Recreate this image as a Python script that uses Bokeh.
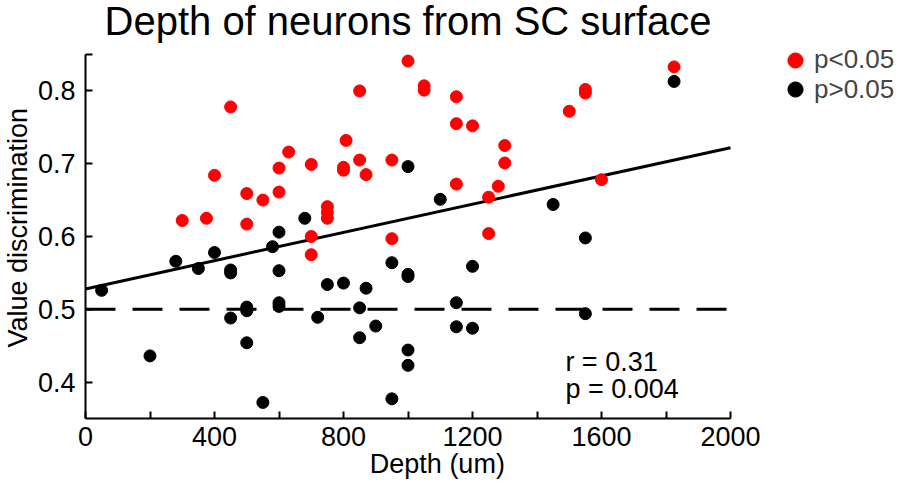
import math
from bokeh.plotting import figure
from bokeh.models import (FixedTicker, Label, Legend, LegendItem, ColumnDataSource)
from bokeh.embed import file_html
from bokeh.resources import INLINE

# ---- data ----
sig_depth = [300, 375, 450, 400, 500, 500, 550, 600, 600, 630, 700, 750, 750, 750,
             700, 700, 808, 800, 800, 850, 850, 870, 950, 950, 1000, 1050, 1050,
             1150, 1150, 1200, 1300, 1300, 1150, 1280, 1250, 1250, 1500, 1550, 1550,
             1600, 1825]
sig_value = [0.622, 0.625, 0.778, 0.684, 0.659, 0.617, 0.650, 0.694, 0.661, 0.716,
             0.699, 0.641, 0.633, 0.625, 0.600, 0.575, 0.732, 0.695, 0.691, 0.800,
             0.705, 0.685, 0.705, 0.597, 0.841, 0.807, 0.801, 0.792, 0.755, 0.752,
             0.725, 0.701, 0.672, 0.669, 0.654, 0.604, 0.772, 0.802, 0.797, 0.678,
             0.833]
ns_depth = [50, 200, 280, 350, 400, 450, 450, 450, 500, 500, 500, 550, 580, 600, 600,
            600, 600, 680, 720, 750, 800, 850, 850, 870, 900, 950, 950, 1000, 1100,
            1000, 1000, 1200, 1150, 1150, 1200, 1000, 1000, 1450, 1550, 1550, 1825]
ns_value = [0.526, 0.436, 0.566, 0.556, 0.578, 0.554, 0.550, 0.488, 0.503, 0.498,
            0.454, 0.372, 0.586, 0.606, 0.553, 0.509, 0.504, 0.625, 0.489, 0.534,
            0.536, 0.502, 0.461, 0.529, 0.477, 0.564, 0.377, 0.696, 0.651, 0.548,
            0.545, 0.559, 0.509, 0.476, 0.474, 0.444, 0.423, 0.644, 0.598, 0.494,
            0.813]

fit_intercept = 0.528
fit_slope = 0.000097
fit_x = [0, 2000]
chance_level = 0.5

x_limits = (0, 2000)
y_limits = (0.35, 0.85)
x_ticks = [0, 200, 400, 600, 800, 1000, 1200, 1400, 1600, 1800, 2000]
x_tick_labels = ["0", "", "400", "", "800", "", "1200", "", "1600", "", "2000"]
y_ticks = [0.4, 0.5, 0.6, 0.7, 0.8, 0.85]
y_tick_labels = ["0.4", "0.5", "0.6", "0.7", "0.8", ""]

title_text = "Depth of neurons from SC surface"
x_label = "Depth (um)"
y_label = "Value discrimination"
stat_r = "r = 0.31"
stat_p = "p = 0.004"
legend_labels = ["p<0.05", "p>0.05"]

FONT = "Liberation Sans"

# ---- layout: the frame covers the whole canvas; axes sit at fixed data positions ----
W, H = 902, 491
AX_L, AX_R, AX_T, AX_B = 85, 730, 54, 418          # axes box in pixels
xpp = (x_limits[1] - x_limits[0]) / (AX_R - AX_L)
ypp = (y_limits[1] - y_limits[0]) / (AX_B - AX_T)
x_range = (x_limits[0] - AX_L * xpp, x_limits[1] + (W - AX_R) * xpp)
y_range = (y_limits[0] - (H - AX_B) * ypp, y_limits[1] + AX_T * ypp)

p = figure(width=W, height=H, x_range=x_range, y_range=y_range,
           output_backend="svg", toolbar_location=None,
           min_border_left=0, min_border_right=0, min_border_top=0,
           min_border_bottom=0)
p.title.visible = False
p.outline_line_color = None
p.xgrid.visible = False
p.ygrid.visible = False
p.background_fill_color = "white"
p.border_fill_color = "white"

for ax in (p.xaxis[0], p.yaxis[0]):
    ax.axis_line_width = 2
    ax.axis_line_color = "black"
    ax.major_tick_line_width = 2
    ax.major_tick_in = 7
    ax.major_tick_out = 0
    ax.minor_tick_line_color = None
    ax.major_label_text_font = FONT
    ax.major_label_text_font_size = "27px"
    ax.major_label_text_color = "black"

p.xaxis[0].fixed_location = y_limits[0]
p.xaxis[0].bounds = x_limits
p.xaxis[0].ticker = FixedTicker(ticks=x_ticks)
p.xaxis[0].major_label_overrides = {t: l for t, l in zip(x_ticks, x_tick_labels)}
p.xaxis[0].major_label_standoff = 8
p.yaxis[0].fixed_location = x_limits[0]
p.yaxis[0].bounds = y_limits
p.yaxis[0].ticker = FixedTicker(ticks=y_ticks)
p.yaxis[0].major_label_overrides = {t: l for t, l in zip(y_ticks, y_tick_labels)}
p.yaxis[0].major_label_standoff = 10

# chance line
p.line(list(x_limits), [chance_level, chance_level], line_color="black",
       line_width=3, line_dash="30 17")

# regression line
fit_y = [fit_intercept + fit_slope * x for x in fit_x]
p.line(fit_x, fit_y, line_color="black", line_width=3)

sig_src = ColumnDataSource(dict(x=sig_depth, y=sig_value))
ns_src = ColumnDataSource(dict(x=ns_depth, y=ns_value))
r_sig = p.scatter("x", "y", source=sig_src, size=12, fill_color="#ff0000",
                  line_color="#ff0000")
r_ns = p.scatter("x", "y", source=ns_src, size=12, fill_color="black",
                 line_color="black")

# one legend per entry so each row can be placed where the reference has it
leg_style = dict(glyph_width=38, glyph_height=38, label_standoff=0, padding=0,
                 margin=0, border_line_color=None, background_fill_alpha=0,
                 label_text_font=FONT, label_text_font_size="26px")
leg_rows = [(legend_labels[0], r_sig, 59.5), (legend_labels[1], r_ns, 89)]
for lab, rend, cy in leg_rows:
    p.add_layout(Legend(items=[LegendItem(label=lab, renderers=[rend])],
                        location=(776, H - (cy + 19)), **leg_style))

p.add_layout(Label(x=sum(x_limits) / 2, y=y_limits[1], y_offset=34, text=title_text,
                   text_align="center", text_baseline="alphabetic", text_font=FONT,
                   text_font_size="40px", text_color="black"))
p.add_layout(Label(x=1091, y=y_limits[0], y_offset=-45, text=x_label,
                   text_align="center", text_baseline="alphabetic", text_font=FONT,
                   text_font_size="27px", text_color="black"))
p.add_layout(Label(x=x_limits[0], y=0.612, x_offset=-68, angle=math.pi / 2,
                   text=y_label, text_align="center", text_baseline="alphabetic",
                   text_font=FONT, text_font_size="27px", text_color="black"))
p.add_layout(Label(x=1488, y=0.416, y_offset=8, text=stat_r, text_align="left",
                   text_baseline="alphabetic", text_font=FONT,
                   text_font_size="27px", text_color="black"))
p.add_layout(Label(x=1488, y=0.380, y_offset=8, text=stat_p, text_align="left",
                   text_baseline="alphabetic", text_font=FONT,
                   text_font_size="27px", text_color="black"))

open("out.html", "w").write(file_html(p, INLINE))
